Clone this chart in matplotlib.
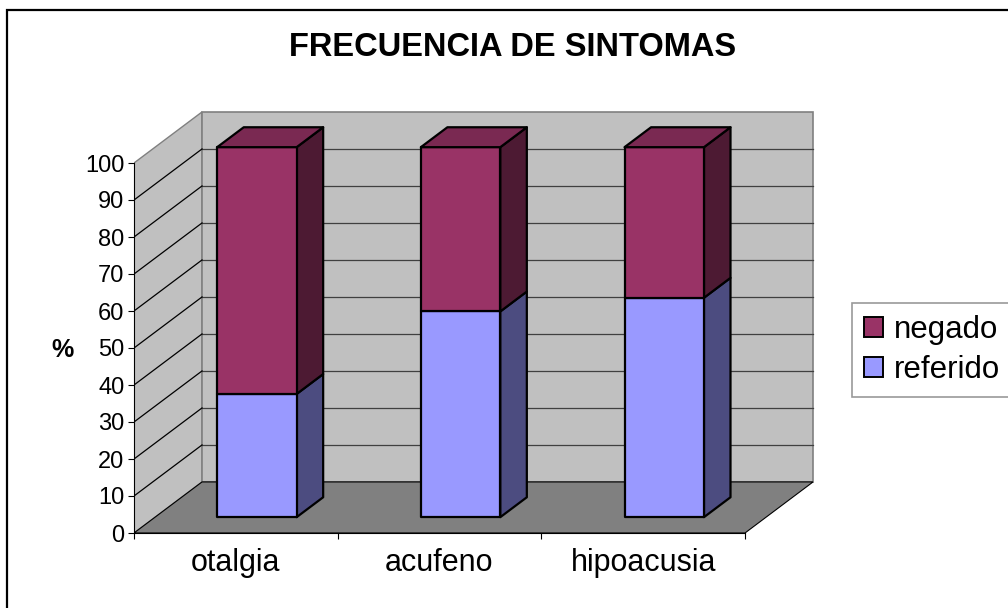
import numpy as np
import matplotlib
matplotlib.use("Agg")
from matplotlib import pyplot as plt
from matplotlib.patches import Polygon, Rectangle

plt.rcParams['font.family'] = ['Liberation Sans', 'DejaVu Sans']

# data (percent of patients, n=27)
categories = ["otalgia", "acufeno", "hipoacusia"]
referido = [33.3, 55.6, 59.3]
negado = [66.7, 44.4, 40.7]
series_names = ["referido", "negado"]
yticks = list(range(0, 101, 10))

# colours
front_col = {"referido": "#9999FF", "negado": "#993366"}
side_col = {"referido": "#4C4C80", "negado": "#4D1A33"}
top_col = {"referido": "#7A7ACC", "negado": "#7A2952"}
wall_col = "#C0C0C0"
floor_col = "#808080"

# oblique depth projection (in data units)
DX, DY = 0.334, 13.8
D0, D1 = 0.31, 0.70   # bar depth range
HW = 0.195            # half bar width


def proj(x, y, d):
    return (x + d * DX, y + d * DY)


W, H = 1008, 608
fig = plt.figure(figsize=(W / 100, H / 100), dpi=100)

# axes placement: front plane x 0..3 -> px 134..745, y 0..100 -> px 533..163
px_per_x = (745 - 134) / 3.0
px_per_y = (533 - 163) / 100.0
xmax, ymax = 3.45, 116
ax = fig.add_axes([134 / W, (H - 533) / H, xmax * px_per_x / W, ymax * px_per_y / H])
ax.set_xlim(0, xmax)
ax.set_ylim(0, ymax)
ax.patch.set_visible(False)

n = len(categories)

# walls and floor
ax.add_patch(Polygon([proj(0, 0, 0), proj(0, 0, 1), proj(0, 100, 1), proj(0, 100, 0)],
                     closed=True, fc=wall_col, ec=floor_col, lw=1, zorder=1))
ax.add_patch(Polygon([proj(0, 0, 1), proj(n, 0, 1), proj(n, 100, 1), proj(0, 100, 1)],
                     closed=True, fc=wall_col, ec=floor_col, lw=1.2, zorder=1))
ax.add_patch(Polygon([proj(0, 0, 0), proj(n, 0, 0), proj(n, 0, 1), proj(0, 0, 1)],
                     closed=True, fc=floor_col, ec="black", lw=0.8, zorder=2))

# gridlines
for v in yticks[1:-1]:
    x0, y0 = proj(0, v, 1)
    x1, y1 = proj(n, v, 1)
    ax.plot([x0, x1], [y0, y1], color="#404040", lw=0.9, zorder=1.5)
    xa, ya = proj(0, v, 0)
    ax.plot([xa, x0], [ya, y0], color="black", lw=0.9, zorder=1.5)

# bars
for i in range(n):
    c = i + 0.5
    bottom = 0
    vals = [referido[i], negado[i]]
    for k, name in enumerate(series_names):
        top = bottom + vals[k]
        front = [proj(c - HW, bottom, D0), proj(c + HW, bottom, D0),
                 proj(c + HW, top, D0), proj(c - HW, top, D0)]
        side = [proj(c + HW, bottom, D0), proj(c + HW, bottom, D1),
                proj(c + HW, top, D1), proj(c + HW, top, D0)]
        ax.add_patch(Polygon(side, closed=True, fc=side_col[name], ec="black",
                             lw=1.6, joinstyle="round", zorder=3 + k))
        ax.add_patch(Polygon(front, closed=True, fc=front_col[name], ec="black",
                             lw=1.6, joinstyle="round", zorder=3 + k))
        if k == len(series_names) - 1:
            lid = [proj(c - HW, top, D0), proj(c + HW, top, D0),
                   proj(c + HW, top, D1), proj(c - HW, top, D1)]
            ax.add_patch(Polygon(lid, closed=True, fc=top_col[name], ec="black",
                                 lw=1.6, joinstyle="round", zorder=3 + k))
        bottom = top

# axes lines and ticks
for s in ["top", "right"]:
    ax.spines[s].set_visible(False)
ax.spines["left"].set_bounds(0, 100)
ax.spines["bottom"].set_bounds(0, n)
ax.spines["left"].set_zorder(6)
ax.spines["bottom"].set_zorder(6)
ax.set_yticks(yticks)
ax.set_yticklabels([str(v) for v in yticks], fontsize=17)
ax.tick_params(axis="y", direction="out", length=4, width=0.8, pad=3)
ax.set_xticks(np.arange(n + 1))
ax.set_xticklabels([])
ax.tick_params(axis="x", which="major", direction="out", length=4.5, width=0.8)
ax.set_xticks(np.arange(n) + 0.5, minor=True)
ax.set_xticklabels(categories, minor=True, fontsize=22)
ax.tick_params(axis="x", which="minor", length=0, pad=11)

fig.text(62 / W, 1 - 350 / H, "%", fontsize=18, fontweight="bold", ha="center", va="center")
fig.text(513 / W, 1 - 48 / H, "FRECUENCIA DE SINTOMAS", fontsize=23.5, fontweight="bold",
         ha="center", va="center")

# legend
handles = [Rectangle((0, 0), 1, 1, fc=front_col[s], ec="black", lw=1.4) for s in series_names[::-1]]
leg = fig.legend(handles, series_names[::-1], loc="upper left",
                 bbox_to_anchor=(852 / W, 1 - 303 / H), fontsize=22.5, frameon=True,
                 fancybox=False, handlelength=0.6, handleheight=0.6, handletextpad=0.35,
                 borderpad=0.38, labelspacing=0.33, borderaxespad=0)
leg.get_frame().set_edgecolor("#808080")
leg.get_frame().set_linewidth(1.2)

# outer chart border
fig.patches.append(Rectangle((7 / W, -0.05), 1.1, 1 - 10 / H + 0.05, transform=fig.transFigure,
                             fill=False, ec="black", lw=1.6))

fig.savefig("out.png", dpi=100)
